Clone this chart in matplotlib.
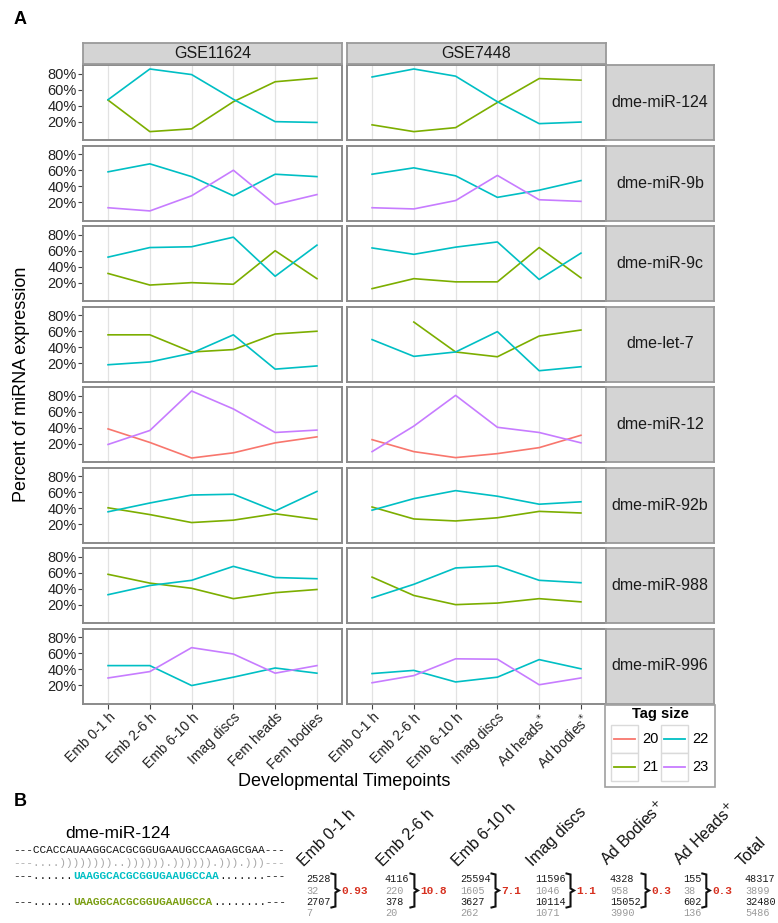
import numpy as np
import matplotlib.pyplot as plt
from matplotlib.patches import Rectangle

plt.rcParams['font.family'] = ['Liberation Sans', 'DejaVu Sans']

# ---------------- data: panel A ----------------
datasets = ["GSE11624", "GSE7448"]
mirnas = ["dme-miR-124", "dme-miR-9b", "dme-miR-9c", "dme-let-7",
          "dme-miR-12", "dme-miR-92b", "dme-miR-988", "dme-miR-996"]
tp_gse11624 = ["Emb 0-1 h", "Emb 2-6 h", "Emb 6-10 h", "Imag discs", "Fem heads", "Fem bodies"]
tp_gse7448 = ["Emb 0-1 h", "Emb 2-6 h", "Emb 6-10 h", "Imag discs", "Ad heads$^{*}$", "Ad bodies$^{*}$"]
tag_sizes = [20, 21, 22, 23]

nan = np.nan
# percent of miRNA expression, one list per miRNA / dataset / tag size
mir124_gse11624_21 = [47, 7.5, 11, 45, 70, 74.5]
mir124_gse11624_22 = [47.5, 86, 79, 48, 20, 19]
mir124_gse7448_21 = [16, 7.5, 12.5, 44, 74, 72]
mir124_gse7448_22 = [76, 86, 77, 45, 17.5, 19.5]

mir9b_gse11624_22 = [58, 68, 52, 28, 55, 52]
mir9b_gse11624_23 = [13, 9, 28, 60, 17, 29.5]
mir9b_gse7448_22 = [55, 63, 53, 26, 35, 47]
mir9b_gse7448_23 = [13, 11.5, 22, 53.5, 23, 21]

mir9c_gse11624_21 = [31.5, 17, 20, 18, 60, 25]
mir9c_gse11624_22 = [52, 64, 65, 77, 28, 67]
mir9c_gse7448_21 = [12.5, 25, 21, 21, 64, 26]
mir9c_gse7448_22 = [63.5, 55.5, 64.5, 71, 24, 57]

let7_gse11624_21 = [55.5, 55.5, 34, 37, 56.5, 60]
let7_gse11624_22 = [18, 21.5, 32.5, 55.5, 12.5, 16.5]
let7_gse7448_21 = [nan, 71.5, 34, 28, 54, 61.5]
let7_gse7448_22 = [49.5, 28.5, 34, 59.5, 10.5, 15.5]

mir12_gse11624_20 = [38.5, 21.5, 2, 8.5, 21, 28.5]
mir12_gse11624_23 = [19, 36.5, 86, 63.5, 34, 37]
mir12_gse7448_20 = [25, 10, 2.5, 7.5, 15, 30.5]
mir12_gse7448_23 = [10, 42, 80.5, 40.5, 34, 21]

mir92b_gse11624_21 = [40.5, 32, 22, 25, 33, 26]
mir92b_gse11624_22 = [35.5, 46.5, 56.5, 57.5, 36.5, 61]
mir92b_gse7448_21 = [41.5, 26.5, 24, 28, 36, 34]
mir92b_gse7448_22 = [37.5, 52, 62, 55, 45, 48]

mir988_gse11624_21 = [58, 47, 40.5, 27.5, 35, 39]
mir988_gse11624_22 = [32.5, 44, 50.5, 68, 54, 52.5]
mir988_gse7448_21 = [54.5, 31.5, 20, 22, 27.5, 23.5]
mir988_gse7448_22 = [28.5, 45.5, 66, 68.5, 50.5, 47.5]

mir996_gse11624_22 = [44.5, 44.5, 19.5, 30, 41.5, 35]
mir996_gse11624_23 = [29, 37, 67, 59, 35, 44.5]
mir996_gse7448_22 = [34.5, 38.5, 24, 30, 52, 40.5]
mir996_gse7448_23 = [23, 32, 53, 52.5, 20.5, 29]

# ---------------- data: panel B ----------------
hairpin = "---CCACCAUAAGGCACGCGGUGAAUGCCAAGAGCGAA---"
structure = "---....))))))))..)))))).)))))).))).)))---"
tag22_seq = "UAAGGCACGCGGUGAAUGCCAA"
tag21_seq = "UAAGGCACGCGGUGAAUGCCA"
b_cols = ["Emb 0-1 h", "Emb 2-6 h", "Emb 6-10 h", "Imag discs",
          "Ad Bodies$^{+}$", "Ad Heads$^{+}$", "Total"]
b_row1 = [2528, 4116, 25594, 11596, 4328, 155, 48317]
b_row2 = [32, 220, 1605, 1046, 958, 38, 3899]
b_row3 = [2707, 378, 3627, 10114, 15052, 602, 32480]
b_row4 = [7, 20, 262, 1071, 3990, 136, 5486]
b_ratio = ["0.93", "10.8", "7.1", "1.1", "0.3", "0.3"]

series = {
    ("dme-miR-124", "GSE11624"): {21: mir124_gse11624_21, 22: mir124_gse11624_22},
    ("dme-miR-124", "GSE7448"): {21: mir124_gse7448_21, 22: mir124_gse7448_22},
    ("dme-miR-9b", "GSE11624"): {22: mir9b_gse11624_22, 23: mir9b_gse11624_23},
    ("dme-miR-9b", "GSE7448"): {22: mir9b_gse7448_22, 23: mir9b_gse7448_23},
    ("dme-miR-9c", "GSE11624"): {21: mir9c_gse11624_21, 22: mir9c_gse11624_22},
    ("dme-miR-9c", "GSE7448"): {21: mir9c_gse7448_21, 22: mir9c_gse7448_22},
    ("dme-let-7", "GSE11624"): {21: let7_gse11624_21, 22: let7_gse11624_22},
    ("dme-let-7", "GSE7448"): {21: let7_gse7448_21, 22: let7_gse7448_22},
    ("dme-miR-12", "GSE11624"): {20: mir12_gse11624_20, 23: mir12_gse11624_23},
    ("dme-miR-12", "GSE7448"): {20: mir12_gse7448_20, 23: mir12_gse7448_23},
    ("dme-miR-92b", "GSE11624"): {21: mir92b_gse11624_21, 22: mir92b_gse11624_22},
    ("dme-miR-92b", "GSE7448"): {21: mir92b_gse7448_21, 22: mir92b_gse7448_22},
    ("dme-miR-988", "GSE11624"): {21: mir988_gse11624_21, 22: mir988_gse11624_22},
    ("dme-miR-988", "GSE7448"): {21: mir988_gse7448_21, 22: mir988_gse7448_22},
    ("dme-miR-996", "GSE11624"): {22: mir996_gse11624_22, 23: mir996_gse11624_23},
    ("dme-miR-996", "GSE7448"): {22: mir996_gse7448_22, 23: mir996_gse7448_23},
}

# ---------------- styling / layout ----------------
tag_colors = {20: "#F8766D", 21: "#7CAE00", 22: "#00BFC4", 23: "#C77CFF"}
strip_fill, strip_edge, panel_edge = "#d4d4d4", "#9a9a9a", "#8a8a8a"
W, H = 778, 923
col_x = [(83, 342), (347, 606)]
strip_x = (606, 714)
row_top0, row_pitch, row_h = 65, 80.5, 75


def frac(x0, y0, x1, y1):
    # pixel box (top-left origin) -> figure fraction
    return [x0 / W, 1 - y1 / H, (x1 - x0) / W, (y1 - y0) / H]


def strip(box, label):
    sa = fig.add_axes(frac(*box))
    sa.set_facecolor(strip_fill)
    sa.set_xticks([]); sa.set_yticks([])
    for s in sa.spines.values():
        s.set_color(strip_edge); s.set_linewidth(1.3)
    sa.text(0.5, 0.5, label, ha="center", va="center", fontsize=11.5,
            color="#1a1a1a", transform=sa.transAxes)


fig = plt.figure(figsize=(W / 100, H / 100), dpi=100)

x = np.arange(1, 7)
for r, mir in enumerate(mirnas):
    y0 = row_top0 + r * row_pitch
    for c, ds in enumerate(datasets):
        ax = fig.add_axes(frac(col_x[c][0], y0, col_x[c][1], y0 + row_h))
        for tag in tag_sizes:
            vals = series[(mir, ds)].get(tag)
            if vals is None:
                continue
            ax.plot(x, vals, color=tag_colors[tag], lw=1.2, solid_joinstyle="round")
        ax.set_xlim(0.4, 6.6)
        ax.set_ylim(-3, 91)
        ax.set_xticks(x)
        ax.set_yticks([20, 40, 60, 80])
        ax.grid(axis="x", color="#e2e2e2", lw=0.9)
        ax.set_axisbelow(True)
        for s in ax.spines.values():
            s.set_color(panel_edge); s.set_linewidth(1.4)
        if c == 0:
            ax.set_yticklabels([f"{v}%" for v in [20, 40, 60, 80]], fontsize=10.5, color="#222222")
            ax.tick_params(axis="y", length=3.5, width=0.8, color="#444444", pad=1)
        else:
            ax.tick_params(axis="y", left=False, labelleft=False)
        if r == len(mirnas) - 1:
            labels = tp_gse11624 if c == 0 else tp_gse7448
            ax.set_xticklabels(labels, rotation=45, ha="right", va="top",
                               rotation_mode="anchor", fontsize=10, color="#222222")
            ax.tick_params(axis="x", length=3.5, width=0.8, color="#444444", pad=1.5)
        else:
            ax.tick_params(axis="x", bottom=False, labelbottom=False)
        if r == 0:
            strip((col_x[c][0], 43, col_x[c][1], 64), ds)
    strip((strip_x[0], y0, strip_x[1], y0 + row_h), mir)

fig.text(22 / W, 1 - 384 / H, "Percent of miRNA expression", rotation=90,
         ha="center", va="center", fontsize=13)
fig.text(344 / W, 1 - 782 / H, "Developmental Timepoints", ha="center",
         va="center", fontsize=13)

# overlay in pixel coordinates for legend and panel B
ov = fig.add_axes([0, 0, 1, 1])
ov.set_xlim(0, W)
ov.set_ylim(H, 0)
ov.axis("off")

ov.text(14, 20, "A", fontsize=13, fontweight="bold", va="center")
ov.text(14, 801, "B", fontsize=13, fontweight="bold", va="center")

# legend
ov.add_patch(Rectangle((605, 705), 110, 82, facecolor="white", edgecolor="#a0a0a0", lw=1.2))
ov.text(660, 714, "Tag size", ha="center", va="center", fontsize=10.5, fontweight="bold")
for i, tag in enumerate(tag_sizes):
    cc, rr = divmod(i, 2)
    kx, ky = 611 + cc * 50, 725 + rr * 28
    ov.add_patch(Rectangle((kx, ky), 27, 28, facecolor="white", edgecolor="#dadada", lw=1))
    ov.plot([kx + 3, kx + 24], [ky + 14, ky + 14], color=tag_colors[tag], lw=1.3)
    ov.text(kx + 31, ky + 14, str(tag), va="center", fontsize=10.5)

# panel B: hairpin and tags
mono = ["Liberation Mono", "DejaVu Sans Mono"]
seq_fs = 8
seq_cw = 0.6 * seq_fs * 100 / 72
ov.text(118, 834, "dme-miR-124", ha="center", va="center", fontsize=12.5)
seq_x = 13
ov.text(seq_x, 850, hairpin, family=mono, fontsize=seq_fs, va="center", color="#111111")
ov.text(seq_x, 863, structure, family=mono, fontsize=seq_fs, va="center", color="#a8a8a8")
for tag_seq, yy, col in [(tag22_seq, 876, tag_colors[22]), (tag21_seq, 902, "#7a9e12")]:
    st = hairpin.find(tag_seq)
    en = st + len(tag_seq)
    prefix = "---" + "." * (st - 3)
    suffix = "." * (len(hairpin) - 3 - en) + "---"
    ov.text(seq_x, yy, prefix, family=mono, fontsize=seq_fs, va="center", color="#111111")
    ov.text(seq_x + st * seq_cw, yy, tag_seq, family=mono, fontsize=seq_fs, va="center",
            color=col, fontweight="bold")
    ov.text(seq_x + en * seq_cw, yy, suffix, family=mono, fontsize=seq_fs, va="center",
            color="#111111")

# panel B: counts table
b_x = [306, 385, 460, 535, 610, 683, 745]
b_y = [879, 890.5, 902, 913.5]
row_cols = ["#1a1a1a", "#9a9a9a", "#1a1a1a", "#9a9a9a"]
num_fs = 7.3
cw = 0.602 * num_fs * 100 / 72
for i, name in enumerate(b_cols):
    bx0 = b_x[i]
    ov.text(bx0, 869, name, rotation=45, ha="left", va="bottom",
            rotation_mode="anchor", fontsize=11.5, color="#111111")
    for vals, yy, colr in zip([b_row1, b_row2, b_row3, b_row4], b_y, row_cols):
        ov.text(bx0, yy, str(vals[i]), family=mono, fontsize=num_fs, va="center", color=colr)
    if i < len(b_ratio):
        n = max(len(str(v[i])) for v in (b_row1, b_row2, b_row3))
        bx = bx0 + n * cw + 1
        ov.plot([bx, bx + 4, bx + 4, bx + 7.5, bx + 4, bx + 4, bx],
                [873.5, 874.5, 888.5, 890.5, 892.5, 906.5, 907.5],
                color="#111111", lw=1.5, solid_joinstyle="miter")
        ov.text(bx + 10, 890.5, b_ratio[i], family=mono, fontsize=8, va="center",
                color="#d7301f", fontweight="bold")

fig.savefig("out.png", dpi=100)
